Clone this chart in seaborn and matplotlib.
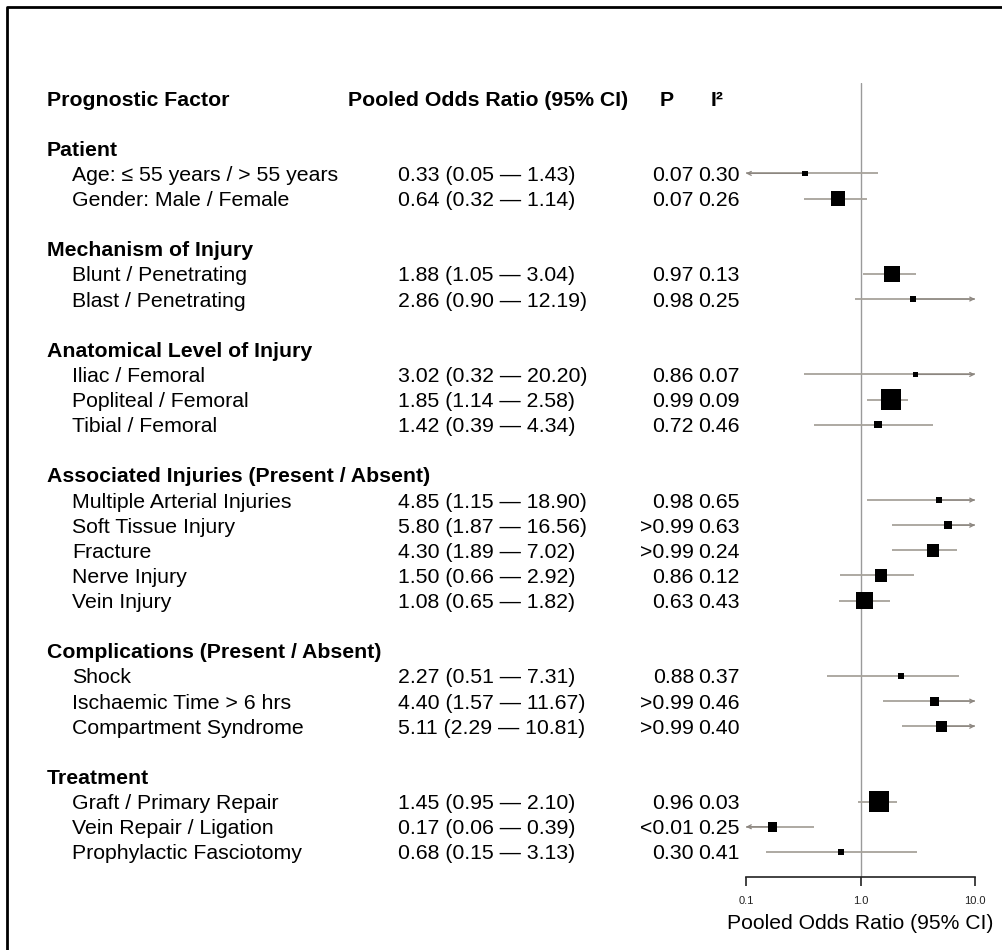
import numpy as np
import pandas as pd
import matplotlib
matplotlib.use("Agg")
import matplotlib.pyplot as plt
import matplotlib.transforms as mtransforms
from matplotlib.lines import Line2D
import seaborn as sns

# ---- data -------------------------------------------------------------
groups = [
    "Patient",
    "Mechanism of Injury",
    "Anatomical Level of Injury",
    "Associated Injuries (Present / Absent)",
    "Complications (Present / Absent)",
    "Treatment",
]
group_of = [0, 0, 1, 1, 2, 2, 2, 3, 3, 3, 3, 3, 4, 4, 4, 5, 5, 5]
factors = [
    "Age: \u2264 55 years / > 55 years",
    "Gender: Male / Female",
    "Blunt / Penetrating",
    "Blast / Penetrating",
    "Iliac / Femoral",
    "Popliteal / Femoral",
    "Tibial / Femoral",
    "Multiple Arterial Injuries",
    "Soft Tissue Injury",
    "Fracture",
    "Nerve Injury",
    "Vein Injury",
    "Shock",
    "Ischaemic Time > 6 hrs",
    "Compartment Syndrome",
    "Graft / Primary Repair",
    "Vein Repair / Ligation",
    "Prophylactic Fasciotomy",
]
odds_ratio = [0.33, 0.64, 1.88, 2.86, 3.02, 1.85, 1.42, 4.85, 5.80, 4.30,
              1.50, 1.08, 2.27, 4.40, 5.11, 1.45, 0.17, 0.68]
ci_low = [0.05, 0.32, 1.05, 0.90, 0.32, 1.14, 0.39, 1.15, 1.87, 1.89,
          0.66, 0.65, 0.51, 1.57, 2.29, 0.95, 0.06, 0.15]
ci_high = [1.43, 1.14, 3.04, 12.19, 20.20, 2.58, 4.34, 18.90, 16.56, 7.02,
           2.92, 1.82, 7.31, 11.67, 10.81, 2.10, 0.39, 3.13]
p_values = ["0.07", "0.07", "0.97", "0.98", "0.86", "0.99", "0.72", "0.98",
            ">0.99", ">0.99", "0.86", "0.63", "0.88", ">0.99", ">0.99",
            "0.96", "<0.01", "0.30"]
i_squared = [0.30, 0.26, 0.13, 0.25, 0.07, 0.09, 0.46, 0.65, 0.63, 0.24,
             0.12, 0.43, 0.37, 0.46, 0.40, 0.03, 0.25, 0.41]
# relative box weight (largest study pool = 1)
weight = [0.28, 0.70, 0.75, 0.30, 0.25, 1.00, 0.35, 0.33, 0.40, 0.62,
          0.60, 0.80, 0.30, 0.45, 0.55, 1.00, 0.47, 0.28]
x_ticks = [0.1, 1.0, 10.0]
x_tick_labels = ["0.1", "1.0", "10.0"]

# ---- row layout ---------------------------------------------------------
rows_title = []
rows_item = []
r = 0
prev = None
for g in group_of:
    if g != prev:
        r += 2  # blank spacer row followed by group title
        rows_title.append(r)
        prev = g
    r += 1
    rows_item.append(r)
n_rows = r

df = pd.DataFrame({
    "factor": factors, "or": odds_ratio, "lo": ci_low, "hi": ci_high,
    "row": rows_item, "area": np.square(weight),
})

# ---- figure -------------------------------------------------------------
sns.set_style("white")
plt.rcParams["font.family"] = ["Liberation Sans", "DejaVu Sans"]
plt.rcParams["text.color"] = "black"
plt.rcParams["axes.labelcolor"] = "black"
plt.rcParams["xtick.color"] = "#222222"

W, H = 1003, 950
fig = plt.figure(figsize=(W / 100, H / 100), dpi=100)
ax_l, ax_r, ax_t, ax_b = 746, 975, 83, 877
ax = fig.add_axes([ax_l / W, 1 - ax_b / H, (ax_r - ax_l) / W, (ax_b - ax_t) / H])

row_px = 25.13
top_row = (ax_t - 98) / row_px
bot_row = (ax_b - 98) / row_px
ax.set_xscale("log")
ax.set_xlim(0.1, 10)
ax.set_ylim(bot_row, top_row)

xmin, xmax = ax.get_xlim()
ci_color = "#a7a29b"

# reference line at OR = 1
ax.axvline(1.0, color="#9a9a9a", lw=1.0, zorder=1)

# confidence intervals, with arrows where they run past the axis
for _, d in df.iterrows():
    lo_c = max(d["lo"], xmin)
    hi_c = min(d["hi"], xmax)
    ax.hlines(d["row"], lo_c, hi_c, color=ci_color, lw=1.3, zorder=2)
    if d["lo"] < xmin:
        ax.annotate("", xy=(xmin, d["row"]), xytext=(d["or"], d["row"]),
                    arrowprops=dict(arrowstyle="->", color="#8c8680", lw=0.9,
                                    mutation_scale=7, shrinkA=0, shrinkB=0),
                    annotation_clip=False, zorder=2)
    if d["hi"] > xmax:
        ax.annotate("", xy=(xmax, d["row"]), xytext=(d["or"], d["row"]),
                    arrowprops=dict(arrowstyle="->", color="#8c8680", lw=0.9,
                                    mutation_scale=7, shrinkA=0, shrinkB=0),
                    annotation_clip=False, zorder=2)

# point estimates: squares sized by weight
box_side_pt = 20.5 * 0.72
sns.scatterplot(data=df, x="or", y="row", size="area",
                sizes=(0, box_side_pt ** 2), size_norm=(0, 1),
                marker="s", color="black", linewidth=0, legend=False,
                ax=ax, zorder=3, clip_on=False)

ax.set_ylim(bot_row, top_row)
ax.set_yticks([])
ax.set_ylabel("")
for s in ["top", "left", "right"]:
    ax.spines[s].set_visible(False)
ax.spines["bottom"].set_color("#222222")
ax.spines["bottom"].set_linewidth(1.2)
ax.set_xticks(x_ticks)
ax.set_xticklabels(x_tick_labels)
ax.xaxis.set_minor_locator(matplotlib.ticker.NullLocator())
ax.tick_params(axis="x", direction="out", length=6.5, width=1.2,
               color="#222222", labelsize=8, pad=7, bottom=True)
ax.set_xlabel("Pooled Odds Ratio (95% CI)", fontsize=15.2, labelpad=6)

# ---- text columns -------------------------------------------------------
tr = mtransforms.blended_transform_factory(fig.transFigure, ax.transData)
fs = 15.3


def put(xpx, row, s, **kw):
    ax.text(xpx / W, row, s, transform=tr, fontsize=fs, va="center_baseline",
            clip_on=False, **kw)


put(47, 0, "Prognostic Factor", fontweight="bold")
put(348, 0, "Pooled Odds Ratio (95% CI)", fontweight="bold")
put(660, 0, "P", fontweight="bold")
put(711, 0, "I\u00b2", fontweight="bold")

for g, row in zip(groups, rows_title):
    put(47, row, g, fontweight="bold")

for i, d in df.iterrows():
    put(72, d["row"], d["factor"])
    put(398, d["row"],
        f"{d['or']:.2f} ({d['lo']:.2f} \u2014 {d['hi']:.2f})")
    put(694, d["row"], p_values[i], ha="right")
    put(698, d["row"], f"{i_squared[i]:.2f}")

# outer frame (left and top edges)
fig.add_artist(Line2D([7 / W, 7 / W, 1.0], [0.0, 1 - 7 / H, 1 - 7 / H],
                      transform=fig.transFigure, color="black", lw=2))

fig.savefig("out.png", dpi=100)
